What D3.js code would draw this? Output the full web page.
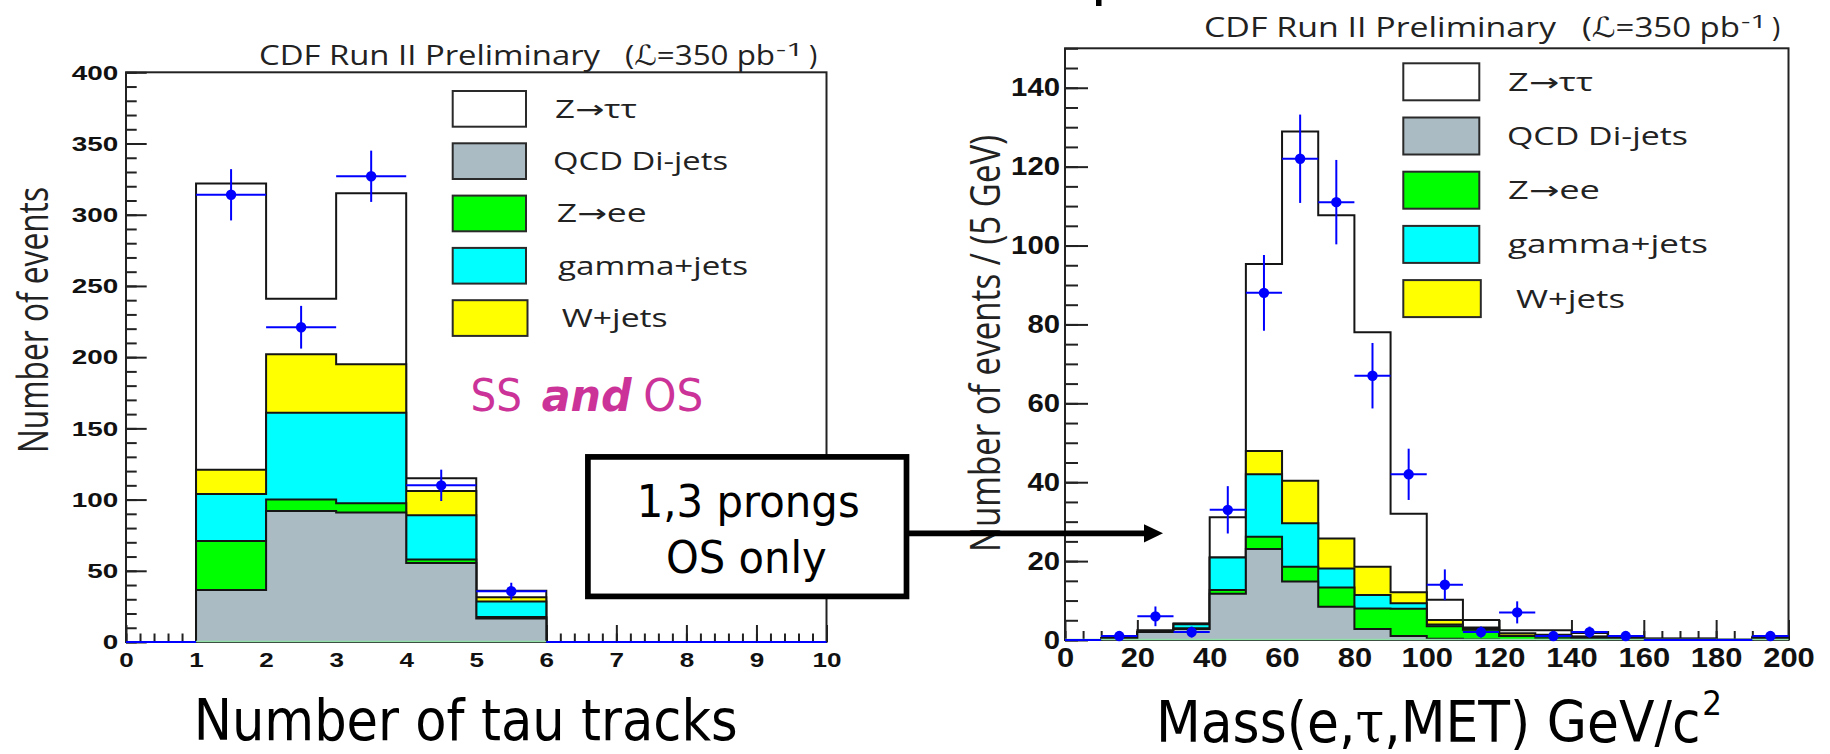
<!DOCTYPE html>
<html>
<head>
<meta charset="utf-8">
<script src="https://cdn.jsdelivr.net/npm/d3@7"></script>
<style>
  html, body { margin: 0; padding: 0; background: #fff; }
  svg { display: block; }
</style>
</head>
<body>
<svg id="fig" width="1830" height="754"></svg>
<script>
// ---------------- Number of tau tracks (SS and OS) ----------------
const trackEdges  = [0, 1, 2, 3, 4, 5, 6, 7, 8, 9, 10];
const trackQCD    = [0, 36.5, 92, 91, 55.5, 16.5, 0, 0, 0, 0];
const trackZee    = [0, 34.5, 8, 6.5, 2.5, 1, 0, 0, 0, 0];
const trackGamma  = [0, 33, 61, 63.5, 31, 11, 0, 0, 0, 0];
const trackWjets  = [0, 17, 41, 34, 17, 3, 0, 0, 0, 0];
const trackZtt    = [0, 201, 39, 120, 9, 4.5, 0, 0, 0, 0];
const trackData   = [0, 314, 221, 327, 110, 35.6, 0, 0, 0, 0];
const trackErr    = [0, 18, 15, 18, 11, 6, 0, 0, 0, 0];
const trackXTicks = [0, 1, 2, 3, 4, 5, 6, 7, 8, 9, 10];
const trackYTicks = [0, 50, 100, 150, 200, 250, 300, 350, 400];

// ---------------- Mass(e, tau, MET), 10 GeV bins (1,3 prongs OS only) ----------------
const massEdges  = [0, 10, 20, 30, 40, 50, 60, 70, 80, 90, 100, 110, 120, 130, 140, 150, 160, 170, 180, 190, 200];
const massQCD    = [0, 0.3, 2, 2.8, 11.7, 23.1, 14.8, 8.4, 2.8, 1.0, 0.3, 0.1, 0, 0.2, 0.3, 0.1, 0.2, 0.2, 0, 0.3];
const massZee    = [0, 0, 0, 0.2, 1.0, 3.1, 3.8, 4.9, 5.2, 6.9, 3.2, 2.5, 1.0, 0.6, 0.3, 0.2, 0, 0, 0, 0.1];
const massGamma  = [0, 0, 0, 1.0, 8.2, 15.8, 11, 4.8, 3.4, 1.4, 0.4, 0.3, 0.1, 0.2, 0.2, 0.1, 0, 0, 0, 0.1];
const massWjets  = [0, 0, 0, 0.1, 0, 5.9, 10.8, 7.6, 7.2, 2.8, 1.2, 0.3, 0.6, 0.3, 0.1, 0.1, 0.1, 0.1, 0, 0.1];
const massZtt    = [0, 0.2, 0.5, 0.1, 10.2, 47.4, 88.5, 82, 59.4, 19.9, 5.1, 1.9, 0.8, 1.2, 0.9, 0.4, 0.1, 0.1, 0.1, 0.2];
const massData   = [0, 1, 6, 2, 33, 88, 122, 111, 67, 42, 14, 2, 7, 1, 2, 1, 0, 0, 0, 1];
const massErr    = [0, 1, 2.5, 1.4, 6, 9.6, 11.2, 10.7, 8.3, 6.5, 3.9, 1.4, 2.8, 1, 1.4, 1, 0, 0, 0, 1];
const massXTicks = [0, 20, 40, 60, 80, 100, 120, 140, 160, 180, 200];
const massYTicks = [0, 20, 40, 60, 80, 100, 120, 140];

// ---------------- legend ----------------
const legendLabels = ["Z\u2192\u03c4\u03c4", "QCD Di-jets", "Z\u2192ee", "gamma+jets", "W+jets"];
const legendColors = ["#ffffff", "#aabbc4", "#00ff00", "#00ffff", "#ffff00"];
// stack colours, bottom layer first
const stackColors  = ["#aabbc4", "#00ff00", "#00ffff", "#ffff00", "#ffffff"];

const svg = d3.select("#fig");
svg.append("rect").attr("width", 1830).attr("height", 754).attr("fill", "#fff");

const TICK_FONT = "'Liberation Sans', Arial, sans-serif";
const ROOT_FONT = "'Open Sans', 'DejaVu Sans', sans-serif";
const SLIDE_FONT = "'DejaVu Sans', Verdana, sans-serif";

function fitText(g, str, x, y, len, size, opts = {}) {
  const t = g.append("text")
    .attr("x", x).attr("y", y)
    .attr("font-family", opts.family || ROOT_FONT)
    .attr("font-size", size)
    .attr("fill", opts.fill || "#1a1a1a")
    .text(str);
  if (len) t.attr("textLength", len).attr("lengthAdjust", "spacingAndGlyphs");
  if (opts.weight) t.attr("font-weight", opts.weight);
  if (opts.style) t.attr("font-style", opts.style);
  if (opts.anchor) t.attr("text-anchor", opts.anchor);
  return t;
}

function panel(o) {
  const g = svg.append("g");
  const x = d3.scaleLinear().domain(o.xDomain).range(o.xRange);
  const y = d3.scaleLinear().domain(o.yDomain).range(o.yRange);
  const [x0, x1] = o.xRange;
  const [yb, yt] = o.yRange;

  // frame
  g.append("rect")
    .attr("x", x0).attr("y", yt)
    .attr("width", x1 - x0).attr("height", yb - yt)
    .attr("fill", "#fff").attr("stroke", "#222").attr("stroke-width", 2);

  // ticks (drawn inward), minor then major
  const styleAxis = sel => {
    sel.select(".domain").remove();
    sel.selectAll(".tick line").attr("stroke", "#222").attr("stroke-width", 2);
  };
  g.append("g").attr("transform", `translate(${x0},0)`)
    .call(d3.axisLeft(y).tickValues(o.yMinor).tickSize(-o.yMinLen).tickFormat(""))
    .call(styleAxis);
  g.append("g").attr("transform", `translate(0,${yb})`)
    .call(d3.axisBottom(x).tickValues(o.xMinor).tickSize(-o.xMinLen).tickFormat(""))
    .call(styleAxis);

  const ay = g.append("g").attr("transform", `translate(${x0},0)`)
    .call(d3.axisLeft(y).tickValues(o.yTicks).tickSize(-o.yMajLen).tickPadding(o.yPad).tickFormat(d3.format("d")))
    .call(styleAxis);
  ay.selectAll(".tick text")
    .attr("font-family", TICK_FONT).attr("font-weight", "bold")
    .attr("font-size", o.yFont).attr("fill", "#111")
    .attr("textLength", d => String(d).length * o.yDigitW)
    .attr("lengthAdjust", "spacingAndGlyphs");

  const ax = g.append("g").attr("transform", `translate(0,${yb})`)
    .call(d3.axisBottom(x).tickValues(o.xTicks).tickSize(-o.xMajLen).tickPadding(o.xPad).tickFormat(d3.format("d")))
    .call(styleAxis);
  ax.selectAll(".tick text")
    .attr("font-family", TICK_FONT).attr("font-weight", "bold")
    .attr("font-size", o.xFont).attr("fill", "#111")
    .attr("textLength", d => String(d).length * o.xDigitW)
    .attr("lengthAdjust", "spacingAndGlyphs");

  // cumulative stack: QCD, +Z->ee, +gamma, +W, +Z->tautau
  const layers = [o.qcd, o.zee, o.gamma, o.wjets, o.ztt];
  const cum = [];
  let run = o.qcd.map(() => 0);
  layers.forEach(l => { run = run.map((v, i) => v + l[i]); cum.push(run); });

  const edges = o.edges;
  const stepPts = vals => {
    const pts = [[x(edges[0]), y(0)]];
    vals.forEach((v, i) => { pts.push([x(edges[i]), y(v)]); pts.push([x(edges[i + 1]), y(v)]); });
    pts.push([x(edges[edges.length - 1]), y(0)]);
    return pts;
  };
  const line = d3.line();
  for (let k = cum.length - 1; k >= 0; k--) {
    const pts = stepPts(cum[k]);
    g.append("path").attr("d", line(pts) + "Z").attr("fill", stackColors[k]).attr("stroke", "none");
    g.append("path").attr("d", line(pts)).attr("fill", "none")
      .attr("stroke", "#151515").attr("stroke-width", 2).attr("stroke-linejoin", "miter");
  }

  // thin line along zero under the stack
  g.append("line")
    .attr("x1", x(o.zeroLine[0])).attr("x2", x(o.zeroLine[1]))
    .attr("y1", y(0) - 0.5).attr("y2", y(0) - 0.5)
    .attr("stroke", "#90e0a8").attr("stroke-width", 1.5);

  // data points with error bars
  const dg = g.append("g").attr("stroke", "#0000ff").attr("stroke-width", 2);
  o.data.forEach((v, i) => {
    const xl = x(edges[i]), xr = x(edges[i + 1]), xc = x((edges[i] + edges[i + 1]) / 2);
    dg.append("line").attr("x1", xl).attr("x2", xr).attr("y1", y(v)).attr("y2", y(v));
    if (v > 0) {
      dg.append("line").attr("x1", xc).attr("x2", xc)
        .attr("y1", y(v - o.err[i])).attr("y2", y(v + o.err[i]));
      dg.append("circle").attr("cx", xc).attr("cy", y(v)).attr("r", 5.2)
        .attr("fill", "#0000ff").attr("stroke", "none");
    }
  });

  // legend
  const lg = g.append("g");
  legendLabels.forEach((lab, i) => {
    const by = o.leg.y0 + i * o.leg.dy;
    lg.append("rect")
      .attr("x", o.leg.x).attr("y", by)
      .attr("width", o.leg.w + (i === 4 ? 1.5 : 0)).attr("height", o.leg.h)
      .attr("fill", legendColors[i]).attr("stroke", "#2a2a2a").attr("stroke-width", 2);
    const [tx, tl] = o.leg.text[i];
    fitText(lg, lab, tx, by + o.leg.h / 2 + o.leg.base, tl, o.leg.font, { fill: "#222" });
  });

  // plot header
  const t = o.title;
  fitText(g, "CDF Run II Preliminary", t.x0, t.y, t.len0, 28, { fill: "#222" });
  fitText(g, "(\u2112=350 pb", t.x1, t.y, t.len1, 28, { fill: "#222" });
  fitText(g, "-1", t.x2, t.y - 9, t.len2, 19, { fill: "#222" });
  fitText(g, ")", t.x3, t.y, null, 28, { fill: "#222" });

  // vertical axis title
  g.append("text")
    .attr("transform", `translate(${o.yTitle.x},${o.yTitle.y}) rotate(-90)`)
    .attr("text-anchor", "middle")
    .attr("font-family", ROOT_FONT).attr("font-size", 42).attr("fill", "#222")
    .attr("textLength", o.yTitle.len).attr("lengthAdjust", "spacingAndGlyphs")
    .text(o.yTitle.text);

  return { x, y };
}

panel({
  xDomain: [0, 10], xRange: [126, 826.5],
  yDomain: [0, 400], yRange: [642, 72.3],
  xTicks: trackXTicks, yTicks: trackYTicks,
  xMinor: d3.range(0, 10.001, 0.2), yMinor: d3.range(0, 400.001, 10),
  yMajLen: 20.7, yMinLen: 10.7, xMajLen: 17, xMinLen: 8.5,
  yFont: 21, yDigitW: 15.5, yPad: 7.7,
  xFont: 21, xDigitW: 14.5, xPad: 9.8,
  edges: trackEdges,
  qcd: trackQCD, zee: trackZee, gamma: trackGamma, wjets: trackWjets, ztt: trackZtt,
  data: trackData, err: trackErr,
  zeroLine: [1, 6],
  leg: {
    x: 452.7, y0: 91, dy: 52.3, w: 73.3, h: 35.7, base: 8.8, font: 25,
    text: [[555, 82], [553, 175], [556.7, 90], [558, 190], [561.7, 106]]
  },
  title: { y: 65, x0: 259, len0: 341, x1: 625, len1: 150, x2: 776, len2: 28, x3: 809 },
  yTitle: { x: 48.3, y: 320, len: 266, text: "Number of events" }
});

panel({
  xDomain: [0, 200], xRange: [1065, 1788.5],
  yDomain: [0, 150], yRange: [640, 48.3],
  xTicks: massXTicks, yTicks: massYTicks,
  xMinor: d3.range(0, 200.001, 5), yMinor: d3.range(0, 150.001, 5),
  yMajLen: 23, yMinLen: 13, xMajLen: 20, xMinLen: 9,
  yFont: 25.5, yDigitW: 16.3, yPad: 5,
  xFont: 27, xDigitW: 17.2, xPad: 7.5,
  edges: massEdges,
  qcd: massQCD, zee: massZee, gamma: massGamma, wjets: massWjets, ztt: massZtt,
  data: massData, err: massErr,
  zeroLine: [0, 200],
  leg: {
    x: 1403.3, y0: 63.3, dy: 54.2, w: 76, h: 37, base: 9, font: 25,
    text: [[1508, 85], [1507, 181], [1508, 92], [1508, 200], [1516, 109]]
  },
  title: { y: 36.7, x0: 1204, len0: 352, x1: 1582, len1: 158, x2: 1741, len2: 26, x3: 1772 },
  yTitle: { x: 1000, y: 343.5, len: 417, text: "Number of events / (5 GeV)" }
});

// ---------------- slide annotations ----------------
const ann = svg.append("g");

// "SS and OS"
fitText(ann, "SS", 470.5, 410.5, 51.5, 44, { family: SLIDE_FONT, fill: "#cc3399" });
fitText(ann, "and", 541.7, 410.5, 90, 44, { family: SLIDE_FONT, fill: "#cc3399", weight: "bold", style: "italic" });
fitText(ann, "OS", 643.3, 410.5, 60, 44, { family: SLIDE_FONT, fill: "#cc3399" });

// callout box and arrow
ann.append("rect")
  .attr("x", 587.9).attr("y", 456.9).attr("width", 318.6).attr("height", 139.5)
  .attr("fill", "#fff").attr("stroke", "#000").attr("stroke-width", 5.7);
fitText(ann, "1,3 prongs", 636.7, 516.7, 223, 44, { family: SLIDE_FONT, fill: "#000" });
fitText(ann, "OS only", 666, 573.3, 160.7, 44, { family: SLIDE_FONT, fill: "#000" });
ann.append("line")
  .attr("x1", 909).attr("x2", 1148).attr("y1", 533.3).attr("y2", 533.3)
  .attr("stroke", "#000").attr("stroke-width", 5.7);
ann.append("path")
  .attr("d", "M1144,524.2 L1163,533.3 L1144,542.4 Z")
  .attr("fill", "#000");

// small dark mark at the top edge
ann.append("rect").attr("x", 1096).attr("y", 0).attr("width", 5.5).attr("height", 6).attr("fill", "#000");

// horizontal axis titles
fitText(ann, "Number of tau tracks", 193.7, 740, 544, 57, { family: SLIDE_FONT, fill: "#000" });

const massTitle = ann.append("text")
  .attr("x", 1156).attr("y", 742)
  .attr("font-family", SLIDE_FONT).attr("font-size", 57).attr("fill", "#000")
  .attr("textLength", 566).attr("lengthAdjust", "spacingAndGlyphs");
massTitle.append("tspan").text("Mass(e,");
massTitle.append("tspan").attr("font-family", "'DejaVu Serif', 'Liberation Serif', serif").text("\u03c4");
massTitle.append("tspan").text(",MET) GeV/c");
massTitle.append("tspan").attr("font-size", 34).attr("dy", -27).attr("dx", 2).text("2");
</script>
</body>
</html>
